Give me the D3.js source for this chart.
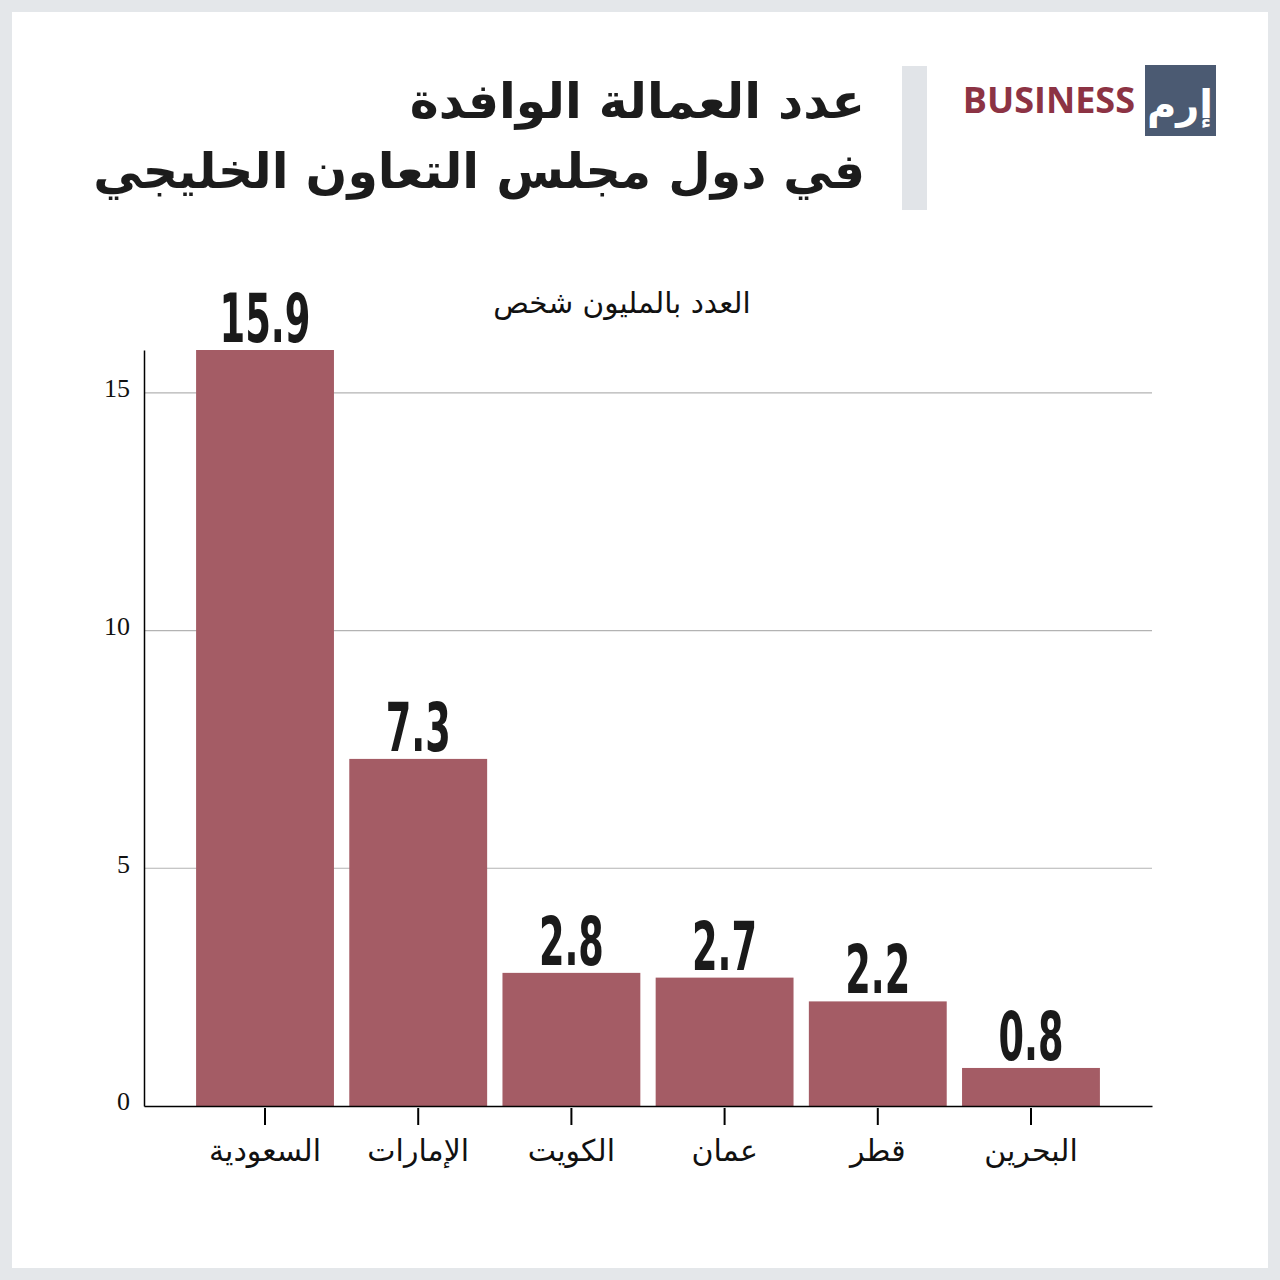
<!DOCTYPE html>
<html><head><meta charset="utf-8">
<script src="https://cdn.jsdelivr.net/npm/d3@7"></script>
<style>body{margin:0;background:#e4e7ea;} svg{display:block;}</style>
</head><body>
<script>
const categories = ["السعودية","الإمارات","الكويت","عمان","قطر","البحرين"];
const values = [15.9, 7.3, 2.8, 2.7, 2.2, 0.8];
const yTicks = [0, 5, 10, 15];
const titleLines = ["عدد العمالة الوافدة","في دول مجلس التعاون الخليجي"];
const subtitle = "العدد بالمليون شخص";

const W = 1280, H = 1280;
const svg = d3.select("body").append("svg").attr("width", W).attr("height", H);
svg.append("rect").attr("width", W).attr("height", H).attr("fill", "#e4e7ea");
svg.append("rect").attr("x", 12).attr("y", 12).attr("width", 1256).attr("height", 1256).attr("fill", "#ffffff");

// title
svg.selectAll("text.title").data(titleLines).join("text")
  .attr("class","title")
  .attr("x", 865).attr("y", (d,i)=> 118 + i*70)
  .attr("text-anchor","end")
  .attr("font-family","DejaVu Sans").attr("font-weight","bold").attr("font-size", 49)
  .attr("fill","#1c1c1c").text(d=>d);

svg.append("rect").attr("x", 902).attr("y", 66).attr("width", 25).attr("height", 144).attr("fill", "#e1e4e8");

// logo
svg.append("text").attr("x", 1135).attr("y", 113).attr("text-anchor","end")
  .attr("font-family","Open Sans").attr("font-weight","bold").attr("font-size", 36)
  .attr("fill","#8c3344").text("BUSINESS");
svg.append("rect").attr("x", 1145).attr("y", 65).attr("width", 71).attr("height", 71).attr("fill", "#4b5a72");
svg.append("text").attr("x", 1180).attr("y", 118).attr("text-anchor","middle")
  .attr("font-family","DejaVu Sans").attr("font-weight","bold").attr("font-size", 40)
  .attr("fill","#ffffff").text("إرم");

// subtitle
svg.append("text").attr("x", 622).attr("y", 313).attr("text-anchor","middle")
  .attr("font-family","DejaVu Sans").attr("font-size", 29.5).attr("fill","#111").text(subtitle);

// scales
const x = d3.scaleBand().domain(categories).range([144, 1152]).paddingInner(0.1).paddingOuter(0.34);
const y = d3.scaleLinear().domain([0, d3.max(values)]).range([1106, 350]);

// grid
svg.append("g").selectAll("line").data(yTicks.filter(t=>t>0)).join("line")
  .attr("x1", 144).attr("x2", 1152).attr("y1", d=>y(d)).attr("y2", d=>y(d))
  .attr("stroke", "#b3b3b3").attr("stroke-width", 1.2);

// bars
const data = categories.map((c,i)=>({c, v: values[i]}));
svg.append("g").selectAll("rect").data(data).join("rect")
  .attr("x", d=>x(d.c)).attr("width", x.bandwidth())
  .attr("y", d=>y(d.v)).attr("height", d=>y(0)-y(d.v))
  .attr("fill", "#a45c65");

// value labels
svg.append("g").selectAll("text").data(data).join("text")
  .attr("x", d=>x(d.c)+x.bandwidth()/2).attr("y", d=>y(d.v)-8)
  .attr("text-anchor","middle")
  .attr("font-family","DejaVu Sans Condensed, DejaVu Sans").attr("font-weight","bold").attr("font-size", 67)
  .attr("textLength", d=>{const s=d3.format(".1f")(d.v); return (s.length-1)*26+13;})
  .attr("lengthAdjust","spacingAndGlyphs")
  .attr("fill","#1a1a1a").text(d=>d3.format(".1f")(d.v));

// y axis
const yAxis = svg.append("g").attr("transform","translate(144,0)")
  .call(d3.axisLeft(y).tickValues(yTicks).tickSize(0).tickPadding(14).tickFormat(d3.format("d")));
yAxis.select(".domain").attr("stroke","#000").attr("stroke-width",1.5);
yAxis.selectAll("text").attr("font-family","Liberation Serif").attr("font-size", 26).attr("fill","#111")
  .attr("dy","0.15em");

// x axis
const xAxis = svg.append("g").attr("transform","translate(0,1106)")
  .call(d3.axisBottom(x).tickSize(19).tickPadding(12).tickSizeOuter(0));
xAxis.select(".domain").attr("stroke","#000").attr("stroke-width",1.5);
xAxis.selectAll(".tick line").attr("stroke","#000").attr("stroke-width",2).attr("y1", 2);
xAxis.selectAll("text").attr("font-family","DejaVu Sans").attr("font-size", 30).attr("fill","#111")
  .attr("dy","0.8em");
</script>
</body></html>
